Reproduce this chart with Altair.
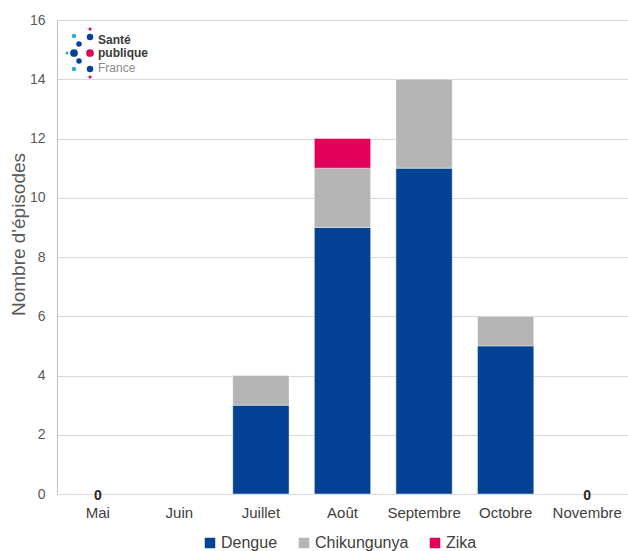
import altair as alt
import pandas as pd

# ---- data ----
mois = ["Mai", "Juin", "Juillet", "Août", "Septembre", "Octobre", "Novembre"]
dengue = [0, 0, 3, 9, 11, 5, 0]
chikungunya = [0, 0, 1, 2, 3, 1, 0]
zika = [0, 0, 0, 1, 0, 0, 0]
series = ["Dengue", "Chikungunya", "Zika"]
couleurs = ["#034294", "#b5b5b5", "#e2005a"]
mois_zero = ["Mai", "Novembre"]
valeurs_zero = [0, 0]
y_ticks = [0, 2, 4, 6, 8, 10, 12, 14, 16]

rows = []
for i, m in enumerate(mois):
    for k, (s, vals) in enumerate(zip(series, [dengue, chikungunya, zika])):
        if vals[i] > 0:
            rows.append({"Mois": m, "Maladie": s, "n": vals[i], "ordre": k})
df = pd.DataFrame(rows)
dz = pd.DataFrame({"Mois": mois_zero, "v": valeurs_zero})

xenc = alt.X(
    "Mois:N",
    sort=mois,
    scale=alt.Scale(domain=mois, paddingInner=0.31, paddingOuter=0.155),
    axis=alt.Axis(
        title=None, labelAngle=0, labelFontSize=15, labelColor="#404040",
        labelFont="Liberation Sans", labelPadding=11, ticks=False,
        domainColor="#d9d9d9", grid=False,
    ),
)

bars = alt.Chart(df).mark_bar(stroke="#ffffff", strokeWidth=0.6, strokeOpacity=0.7).encode(
    x=xenc,
    y=alt.Y(
        "sum(n):Q",
        stack="zero",
        scale=alt.Scale(domain=[0, 16], nice=False),
        axis=alt.Axis(
            title="Nombre d'épisodes", values=y_ticks, labelFontSize=14,
            labelColor="#595959", labelFont="Liberation Sans", labelPadding=12,
            ticks=False, domainColor="#bfbfbf", gridColor="#d9d9d9",
            titleFontSize=19, titleFont="Liberation Sans", titleFontWeight="normal",
            titleColor="#595959", titleX=-39, titleY=214, titleAngle=270,
            titleAlign="center", titleBaseline="middle",
        ),
    ),
    color=alt.Color(
        "Maladie:N",
        scale=alt.Scale(domain=series, range=couleurs),
        legend=alt.Legend(
            title=None, orient="none", direction="horizontal", legendX=145,
            legendY=515, symbolType="square", symbolSize=110, symbolStrokeWidth=0,
            labelFontSize=16, labelFont="Liberation Sans", labelColor="#404040",
            labelOffset=3, columnPadding=18,
        ),
    ),
    order=alt.Order("ordre:Q"),
)

zeros = alt.Chart(dz).mark_text(
    fontWeight="bold", fontSize=14, color="#262626", font="Liberation Sans",
    baseline="middle", dy=2,
).encode(x=alt.X("Mois:N", sort=mois), y=alt.Y("v:Q"), text=alt.Text("v:Q"))

# ---- logo (decoration) ----
one = pd.DataFrame({"a": [0]})
logo_dots = [
    (33, 9, 10, "#e2005a"), (33, 17, 42, "#034294"), (17, 16, 20, "#29abe2"),
    (22, 24, 30, "#034294"), (17, 33, 60, "#034294"), (10, 33, 10, "#29abe2"),
    (33, 33, 60, "#e2005a"), (22, 41, 30, "#034294"), (17, 49, 20, "#29abe2"),
    (33, 49, 42, "#034294"), (33, 57, 10, "#e2005a"),
]
layers = [bars, zeros]
for (px, py, sz, col) in logo_dots:
    layers.append(
        alt.Chart(one).mark_point(filled=True, size=sz, color=col, opacity=1)
        .encode(x=alt.value(px), y=alt.value(py))
    )
logo_txt = [("Santé", "bold", "#3a3a3a"), ("publique", "bold", "#3a3a3a"),
            ("France", "normal", "#8a8a8a")]
logo_y = [20, 33, 48]
for i, (t, w, c) in enumerate(logo_txt):
    layers.append(
        alt.Chart(one).mark_text(text=t, fontSize=12, fontWeight=w, color=c,
                                 font="Liberation Sans", align="left", baseline="middle")
        .encode(x=alt.value(41), y=alt.value(logo_y[i]))
    )

chart = alt.layer(*layers).properties(
    width=571, height=474,
    autosize=alt.AutoSizeParams(type="none"),
    padding={"left": 57, "top": 20, "right": 0, "bottom": 57},
).configure_view(strokeWidth=0)

chart.save("out.html", embed_options={"renderer": "svg", "actions": False})
